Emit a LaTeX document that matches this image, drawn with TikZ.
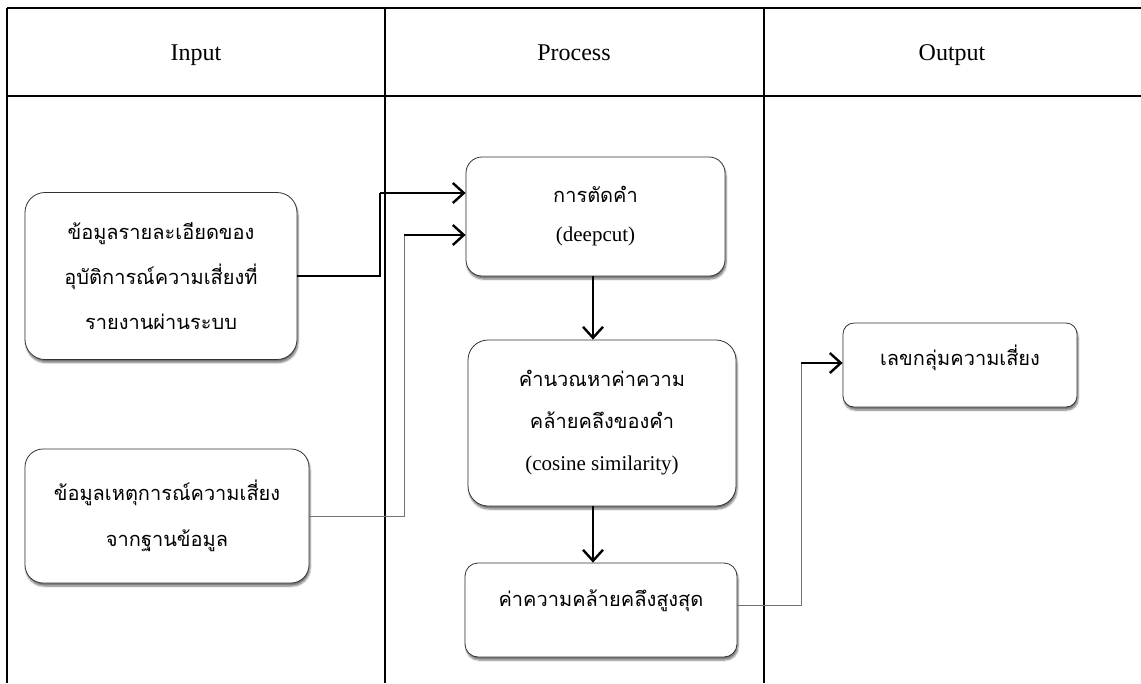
\documentclass[tikz,border=0pt]{standalone}
\usepackage{fontspec}
\setmainfont{Liberation Serif}
\newfontfamily\thaifont[Script=Thai]{Loma}
\usetikzlibrary{arrows.meta,shadows.blur}

\begin{document}
\begin{tikzpicture}[x=1pt,y=-1pt,
  frame/.style={line width=2.4pt},
  colline/.style={line width=1.4pt},
  box/.style={draw=black!80, line width=0.8pt, fill=white, align=center, inner sep=0pt,
    blur shadow={shadow xshift=1pt, shadow yshift=-3pt, shadow blur steps=6, shadow opacity=55}},
  head/.style={font=\fontsize{24}{28}\selectfont, anchor=base},
  arr/.style={line width=2.4pt, -{Straight Barb[length=11pt,width=20pt]}},
  feed/.style={line width=2.4pt},
  thinfeed/.style={draw=black!55, line width=0.7pt},
]
\useasboundingbox (0,0) rectangle (1141,683);

% table frame and column rules
\draw[frame] (7,8) -- (1141,8);
\draw[frame] (7,96) -- (1141,96);
\draw[frame] (7,8) -- (7,683);
\draw[colline] (385,8) -- (385,683);
\draw[colline] (764,8) -- (764,683);

% column headings
\node[head] (hIn)  at (196,60) {Input};
\node[head] (hPr)  at (574,60) {Process};
\node[head] (hOut) at (952,60) {Output};

% input boxes
\node[box, rounded corners=20pt, minimum width=272pt, minimum height=167pt,
      font=\fontsize{20}{45}\thaifont] (inA) at (161,276)
  {ข้อมูลรายละเอียดของ\\อุบัติการณ์ความเสี่ยงที่\\รายงานผ่านระบบ};
\node[box, rounded corners=18pt, minimum width=284pt, minimum height=134pt,
      font=\fontsize{20}{46}\thaifont] (inB) at (167,516)
  {ข้อมูลเหตุการณ์ความเสี่ยง\\จากฐานข้อมูล};

% process boxes
\node[box, rounded corners=16pt, minimum width=259pt, minimum height=119pt,
      font=\fontsize{21}{39}\selectfont] (cut) at (595.5,216.5)
  {{\fontsize{20}{39}\thaifont การตัดคำ}\\(deepcut)};
\node[box, rounded corners=20pt, minimum width=268pt, minimum height=166pt,
      font=\fontsize{21}{42}\selectfont] (sim) at (602,423)
  {{\fontsize{20}{42}\thaifont คำนวณหาค่าความ}\\{\fontsize{20}{42}\thaifont คล้ายคลึงของคำ}\\(cosine similarity)};
\node[box, rounded corners=13pt, minimum width=272pt, minimum height=94pt,
      text height=14pt, text depth=22pt,
      font=\fontsize{20}{24}\thaifont] (max) at (601,610)
  {ค่าความคล้ายคลึงสูงสุด};

% output box
\node[box, rounded corners=11pt, minimum width=234pt, minimum height=84pt,
      text height=14pt, text depth=14pt,
      font=\fontsize{20}{24}\thaifont] (grp) at (960,365)
  {เลขกลุ่มความเสี่ยง};

% bend points of the connectors
\coordinate (kA) at (380,193);
\coordinate (kB) at (404,235);
\coordinate (kx) at (593,0);
\coordinate (kM) at (801,605);
\coordinate (kG) at (801,363);

% connectors
\draw[feed] (inA.east) -| (kA);
\draw[arr] (kA) -- (cut.west |- kA);
\draw[thinfeed] (inB.east) -| (kB);
\draw[arr] (kB) -- (cut.west |- kB);
\draw[arr] (cut.south -| kx) -- (sim.north -| kx);
\draw[arr] (sim.south -| kx) -- (max.north -| kx);
\draw[thinfeed] (max.east |- kM) -- (kM) -- (kG);
\draw[arr] (kG) -- (grp.west |- kG);
\end{tikzpicture}
\end{document}
